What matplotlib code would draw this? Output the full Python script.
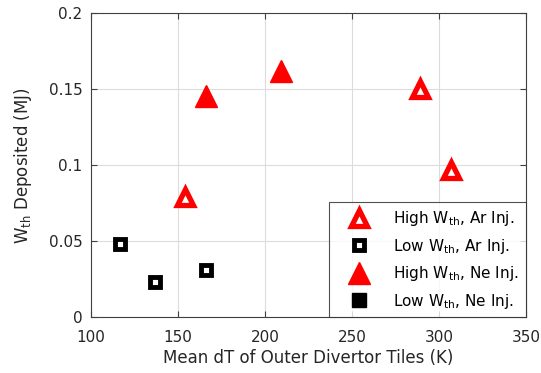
import numpy as np
import matplotlib
matplotlib.use('Agg')
import matplotlib.pyplot as plt

# energy deposited vs mean tile temperature rise
ar_high_dT = [154, 289, 307]
ar_high_W = [0.079, 0.150, 0.097]
ar_low_dT = [117, 137, 166]
ar_low_W = [0.048, 0.023, 0.031]
ne_high_dT = [166, 209]
ne_high_W = [0.146, 0.162]
ne_low_dT = []
ne_low_W = []

plt.rcParams['font.family'] = 'DejaVu Sans'
fig = plt.figure(figsize=(5.41, 3.73), dpi=100)
ax = fig.add_axes([0.168, 0.149, 0.804, 0.815])

ax.plot(ar_high_dT, ar_high_W, '^', color='r', mfc='w', mec='r', mew=3.8, ms=11,
        label=r'High W$_{\rm th}$, Ar Inj.')
ax.plot(ar_low_dT, ar_low_W, 's', color='k', mfc='w', mec='k', mew=3.5, ms=7.5,
        label=r'Low W$_{\rm th}$, Ar Inj.')
ax.plot(ne_high_dT, ne_high_W, '^', color='r', mfc='r', mec='r', ms=16,
        label=r'High W$_{\rm th}$, Ne Inj.')
ax.plot(ne_low_dT, ne_low_W, 's', color='k', mfc='k', mec='k', ms=10.5,
        label=r'Low W$_{\rm th}$, Ne Inj.')

ax.set_xlim(100, 350)
ax.set_ylim(0, 0.2)
ax.set_xticks([100, 150, 200, 250, 300, 350])
ax.set_yticks([0, 0.05, 0.1, 0.15, 0.2])
ax.set_yticklabels(['0', '0.05', '0.1', '0.15', '0.2'])
ax.grid(True, color='#dcdcdc', lw=0.8)
ax.set_axisbelow(True)
ax.tick_params(labelsize=11, direction='in', length=4, color='#404040',
               labelcolor='#262626', top=True, right=True)
ax.tick_params(axis='x', pad=9)
ax.tick_params(axis='y', pad=6)
for s in ax.spines.values():
    s.set_color('#404040')
    s.set_linewidth(0.8)

ax.set_xlabel('Mean dT of Outer Divertor Tiles (K)', fontsize=12, color='#262626',
              labelpad=3)
ax.set_ylabel(r'W$_{\rm th}$ Deposited (MJ)', fontsize=12, color='#262626',
              labelpad=11)

leg = ax.legend(loc='lower right', fontsize=11, frameon=True, fancybox=False,
                edgecolor='#262626', borderaxespad=0, handletextpad=0.75,
                labelspacing=0.55, handlelength=3.0, borderpad=0.45)
leg.get_frame().set_linewidth(0.8)

fig.savefig('out.png', dpi=100)
